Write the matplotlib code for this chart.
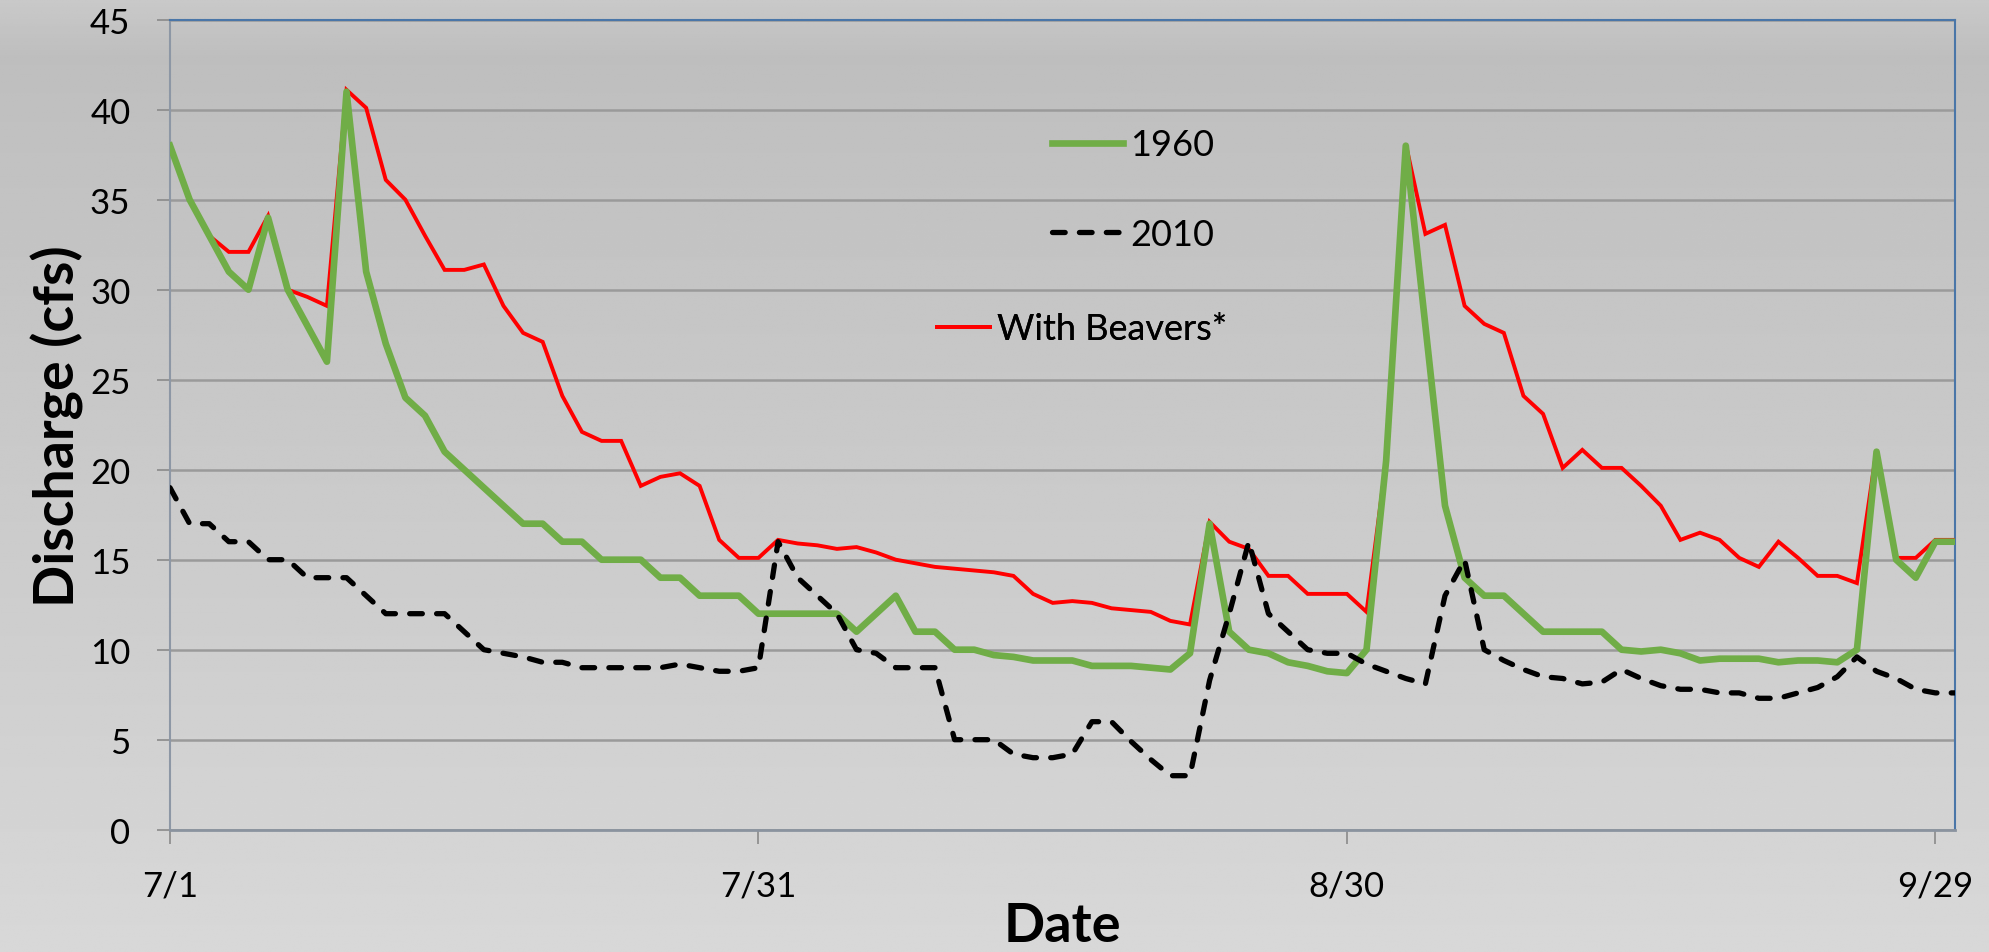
import numpy as np
import pandas as pd
import matplotlib
matplotlib.use("Agg")
import matplotlib.pyplot as plt
from matplotlib.lines import Line2D

plt.rcParams['font.family'] = ['Lato', 'DejaVu Sans']

# daily discharge (cfs), 7/1 .. 9/30
dates = pd.date_range("2010-07-01", periods=92, freq="D")

q1960 = [38, 35, 33, 31, 30, 34, 30, 28, 26, 41,
         31, 27, 24, 23, 21, 20, 19, 18, 17, 17,
         16, 16, 15, 15, 15, 14, 14, 13, 13, 13,
         12, 12, 12, 12, 12, 11, 12, 13, 11, 11,
         10, 10, 9.7, 9.6, 9.4, 9.4, 9.4, 9.1, 9.1, 9.1,
         9.0, 8.9, 9.8, 17, 11, 10, 9.8, 9.3, 9.1, 8.8,
         8.7, 10, 20.5, 38, 28, 18, 14, 13, 13, 12,
         11, 11, 11, 11, 10, 9.9, 10, 9.8, 9.4, 9.5,
         9.5, 9.5, 9.3, 9.4, 9.4, 9.3, 10, 21, 15, 14,
         16, 16]

q2010 = [19, 17, 17, 16, 16, 15, 15, 14, 14, 14,
         13, 12, 12, 12, 12, 11, 10, 9.8, 9.6, 9.3,
         9.3, 9.0, 9.0, 9.0, 9.0, 9.0, 9.2, 9.0, 8.8, 8.8,
         9.0, 16, 14, 13, 12, 10, 9.8, 9.0, 9.0, 9.0,
         5.0, 5.0, 5.0, 4.2, 4.0, 4.0, 4.2, 6.0, 6.0, 4.9,
         3.9, 3.0, 3.0, 8.3, 12, 16, 12, 11, 10, 9.8,
         9.8, 9.2, 8.8, 8.4, 8.1, 13, 15, 10, 9.4, 8.9,
         8.5, 8.4, 8.1, 8.2, 8.9, 8.4, 8.0, 7.8, 7.8, 7.6,
         7.6, 7.3, 7.3, 7.6, 7.9, 8.5, 9.6, 8.8, 8.4, 7.8,
         7.6, 7.6]

q_beavers = [38, 35, 33, 32.1, 32.1, 34.1, 30, 29.6, 29.1, 41.1,
             40.1, 36.1, 35, 33, 31.1, 31.1, 31.4, 29.1, 27.6, 27.1,
             24.1, 22.1, 21.6, 21.6, 19.1, 19.6, 19.8, 19.1, 16.1, 15.1,
             15.1, 16.1, 15.9, 15.8, 15.6, 15.7, 15.4, 15.0, 14.8, 14.6,
             14.5, 14.4, 14.3, 14.1, 13.1, 12.6, 12.7, 12.6, 12.3, 12.2,
             12.1, 11.6, 11.4, 17.1, 16.0, 15.6, 14.1, 14.1, 13.1, 13.1,
             13.1, 12.1, 20.5, 38.1, 33.1, 33.6, 29.1, 28.1, 27.6, 24.1,
             23.1, 20.1, 21.1, 20.1, 20.1, 19.1, 18.0, 16.1, 16.5, 16.1,
             15.1, 14.6, 16.0, 15.1, 14.1, 14.1, 13.7, 21.1, 15.1, 15.1,
             16.1, 16.1]

tick_dates = pd.to_datetime(["2010-07-01", "2010-07-31", "2010-08-30", "2010-09-29"])
tick_labels = ["7/1", "7/31", "8/30", "9/29"]

green = "#70ad47"
red = "#ff0000"
dash = (2.4, 2.7)

fig = plt.figure(figsize=(19.9, 9.53), dpi=100)

# grey gradient background
bg = fig.add_axes([0, 0, 1, 1], zorder=-10)
rows = np.linspace(0, 1, 400)
shade = np.interp(rows, [0, 0.06, 0.15, 0.3, 0.5, 0.7, 0.9, 1.0],
                  [201, 190, 193, 197, 202, 207, 213, 216]) / 255
bg.imshow(np.tile(shade[:, None], (1, 10)), aspect="auto", cmap="gray",
          vmin=0, vmax=1, extent=[0, 1, 0, 1])
bg.axis("off")

ax = fig.add_axes([0.08543, 0.12834, 0.89698, 0.84995])
ax.set_facecolor("none")

ax.plot(dates, q_beavers, color=red, lw=2.8, solid_joinstyle="miter", zorder=3)
ax.plot(dates, q1960, color=green, lw=4.8, zorder=4)
ax.plot(dates, q2010, color="black", lw=3.8, dashes=dash,
        dash_capstyle="round", zorder=5)

ax.set_xlim(dates[0], dates[-1])
ax.set_ylim(0, 45)
ax.set_yticks(range(0, 46, 5))
ax.set_xticks(tick_dates, tick_labels)
ax.grid(axis="y", color="#9a9a9a", lw=1.8)
ax.set_axisbelow(True)

ax.tick_params(axis="both", direction="out", colors="#8a8a8a", labelcolor="black",
               labelsize=25, width=1.2)
ax.tick_params(axis="y", length=9.5, pad=19)
ax.tick_params(axis="x", length=10, pad=19)

ax.spines["left"].set_color("#8d97a5")
ax.spines["left"].set_linewidth(1.5)
ax.spines["bottom"].set_color("#8a939f")
ax.spines["bottom"].set_linewidth(2)
ax.spines["top"].set_color("#4a76a8")
ax.spines["top"].set_linewidth(1.5)
ax.spines["right"].set_color("#4a76a8")
ax.spines["right"].set_linewidth(1.5)

ylab = ax.set_ylabel("Discharge (cfs)", fontsize=40, fontweight="bold")
ylab.set_va("center")
ax.yaxis.set_label_coords(-0.0633, 0.5)
xlab = ax.set_xlabel("Date", fontsize=39, fontweight="bold")
xlab.set_va("baseline")
ax.xaxis.set_label_coords(0.5, -0.138)

# legend entries, one per box like the original layout
entries = [
    (Line2D([], [], color=green, lw=4.8), "1960", 1052, 146, 1.97),
    (Line2D([], [], color="black", lw=3.8, dashes=dash, dash_capstyle="round"),
     "2010", 1052, 235, 1.97),
    (Line2D([], [], color=red, lw=2.8), "With Beavers*", 937, 330, 1.47),
]
for handle, label, px, py, hl in entries:
    leg = ax.legend(handles=[handle], labels=[label], loc="center left",
                    bbox_to_anchor=(px / 1990, 1 - py / 953),
                    bbox_transform=fig.transFigure, frameon=False,
                    borderpad=0, borderaxespad=0, handlelength=hl,
                    handletextpad=0.2, fontsize=26)
    ax.add_artist(leg)

fig.savefig("out.png", dpi=100)
